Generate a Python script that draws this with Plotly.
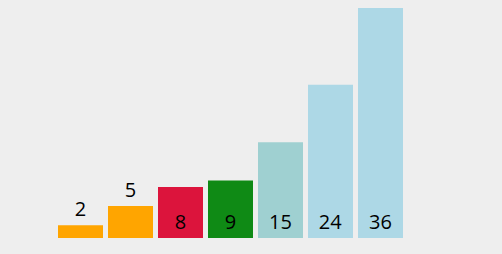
import plotly.graph_objects as go

values = [2, 5, 8, 9, 15, 24, 36]
labels = [str(v) for v in values]
colors = ["#ffa500", "#ffa500", "#dc143c", "#0f8a15", "#9fd0d1", "#add8e6", "#add8e6"]
positions = ["outside", "outside", "inside", "inside", "inside", "inside", "inside"]

x = list(range(len(values)))
fig = go.Figure(go.Bar(
    x=x, y=values, text=labels, textposition=positions,
    insidetextanchor="start", textangle=0, cliponaxis=False,
    marker=dict(color=colors, line=dict(width=0)), width=0.9,
    textfont=dict(family="Open Sans", size=20, color="black"),
    constraintext="none", hoverinfo="skip",
))
ppu = 230 / 36
fig.update_layout(
    width=502, height=254, margin=dict(l=0, r=0, t=0, b=0),
    paper_bgcolor="#eeeeee", plot_bgcolor="#eeeeee", showlegend=False,
    xaxis=dict(range=[-1.61, -1.61 + 502 / 50], visible=False, fixedrange=True),
    yaxis=dict(range=[-16 / ppu, 238 / ppu], visible=False, fixedrange=True),
)
fig.write_html("out.html")
